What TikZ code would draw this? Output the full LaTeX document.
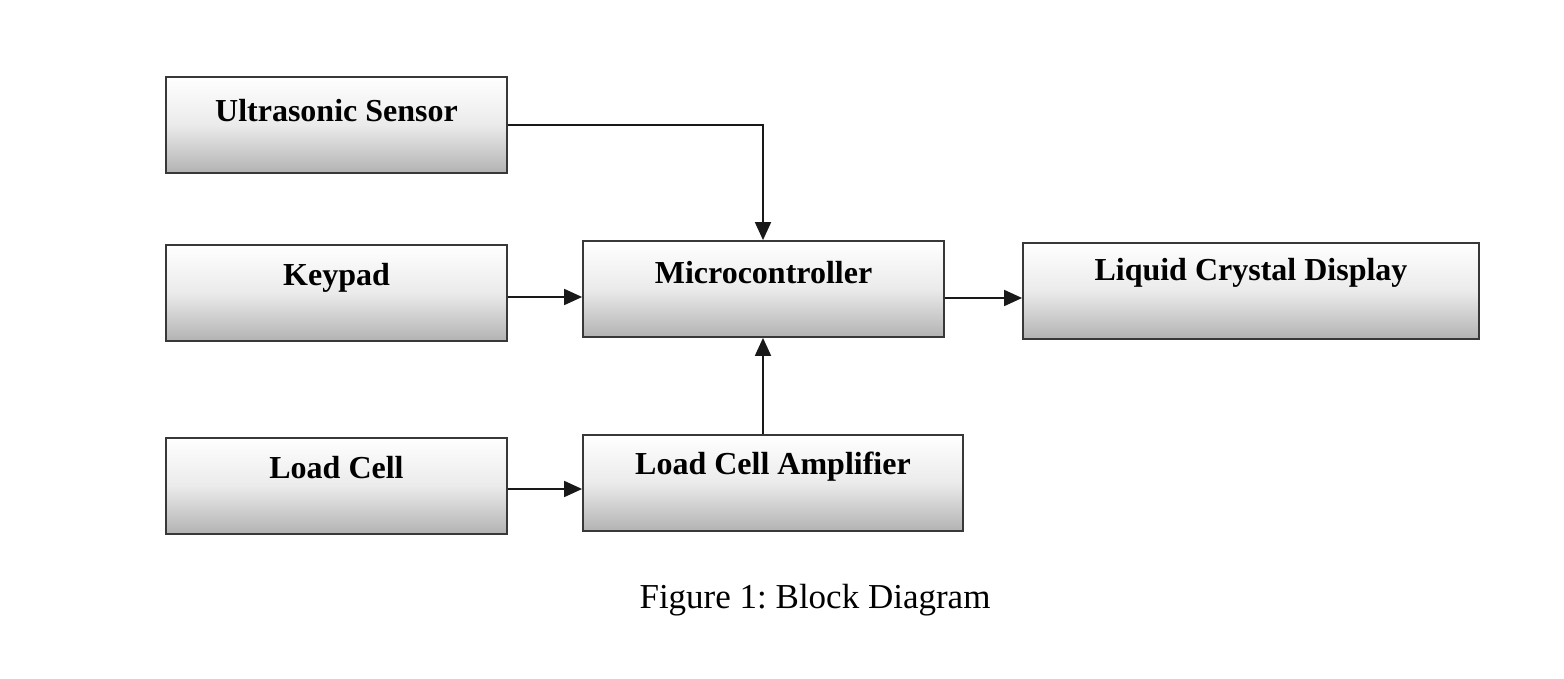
\documentclass[tikz,border=0pt]{standalone}
\usepackage{fontspec}
\setmainfont{Liberation Serif}
\usetikzlibrary{arrows.meta}
\frenchspacing
\begin{document}
\begin{tikzpicture}[x=1pt,y=-1pt,
  blk/.style={draw=black!78, line width=1.8pt, top color=white, bottom color=black!30, middle color=black!8, minimum height=96pt, inner sep=0pt},
  lbl/.style={font=\fontsize{32}{36}\selectfont\bfseries, inner sep=0pt},
  conn/.style={line width=1.8pt, draw=black!90, -{Triangle[length=18pt,width=16pt]}}]
\useasboundingbox (0,0) rectangle (1564,679);
\node[blk, minimum width=341pt] (us) at (336.5,125) {};
\node[lbl] (usl) at ([yshift=-34pt]us.north) {Ultrasonic Sensor};
\node[blk, minimum width=341pt] (kp) at (336.5,293) {};
\node[lbl] (kpl) at ([yshift=-34pt]kp.north) {Keypad};
\node[blk, minimum width=341pt] (lc) at (336.5,486) {};
\node[lbl] (lcl) at ([yshift=-30pt]lc.north) {Load Cell};
\node[blk, minimum width=361pt] (mc) at (763.5,289) {};
\node[lbl] (mcl) at ([yshift=-32pt]mc.north) {Microcontroller};
\node[blk, minimum width=456pt] (lcd) at (1251,291) {};
\node[lbl] (lcdl) at ([yshift=-31pt]lcd.north) {Liquid Crystal Display};
\node[blk, minimum width=380pt] (amp) at (773,483) {};
\node[lbl] (ampl) at ([yshift=-33pt]amp.north) {Load Cell Amplifier};
\coordinate (c1) at (763,125);
\draw[conn] (us.east |- c1) -- (c1) -- (c1 |- mc.north);
\draw[conn] (kp.east |- 0,297) -- (mc.west |- 0,297);
\draw[conn] (mc.east |- 0,298) -- (lcd.west |- 0,298);
\draw[conn] (lc.east |- 0,489) -- (amp.west |- 0,489);
\draw[conn] (amp.north -| c1) -- (mc.south -| c1);
\node[font=\fontsize{35}{40}\selectfont, inner sep=0pt] (cap) at (815,600) {Figure 1: Block Diagram};
\end{tikzpicture}
\end{document}
